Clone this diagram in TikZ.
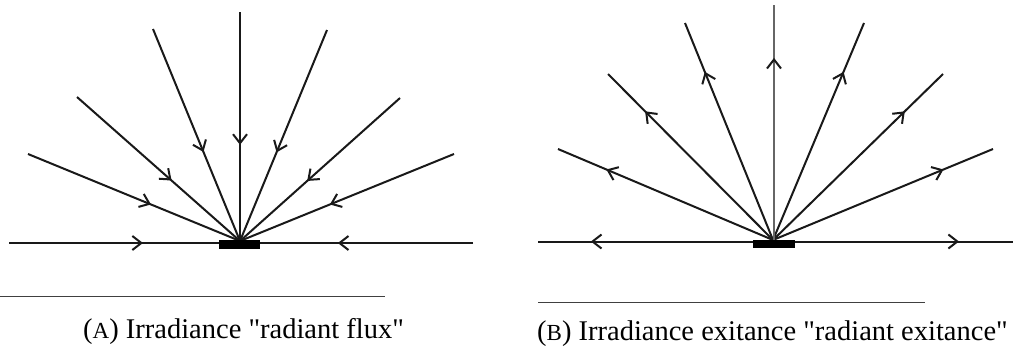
\documentclass[tikz,border=0pt]{standalone}
\usepackage{fontspec}
\setmainfont{Liberation Serif}
\usetikzlibrary{arrows.meta,decorations.markings}
\tikzset{
  tip/.tip={Straight Barb[length=9pt,width=14pt,line width=2pt]},
  ray/.style={line width=2pt, draw=black!90},
  inray/.style={ray, postaction={decorate}, decoration={markings,
      mark=at position 0.58 with {\arrow[black!90]{tip}}}},
  outray/.style={ray, postaction={decorate}, decoration={markings,
      mark=at position 0.775 with {\arrow[black!90]{tip}}}},
  patch/.style={fill=black, draw=none},
  rule/.style={line width=1pt, draw=black!75},
  caption/.style={font=\fontsize{28.5}{30}\selectfont, inner sep=0pt, anchor=base west}
}
\begin{document}
\begin{tikzpicture}[x=1pt,y=-1pt]
\useasboundingbox (0,0) rectangle (1022,354);
% ---------- (A) incoming ----------
\coordinate (ca) at (240,241);
\coordinate (ha) at (240,243);
\coordinate (a0) at (9,243);
\coordinate (a1) at (28,154);
\coordinate (a2) at (77,97);
\coordinate (a3) at (153,29);
\coordinate (a4) at (240,12);
\coordinate (a5) at (327,30);
\coordinate (a6) at (400,98);
\coordinate (a7) at (454,154);
\coordinate (a8) at (473,243);
\draw[inray] (a0) -- (ha);
\draw[inray] (a8) -- (ha);
\foreach \p in {a1,a2,a3,a4,a5,a6,a7} \draw[inray] (\p) -- (ca);
\node[patch, minimum width=41pt, minimum height=9pt, inner sep=0pt] (pa) at (239.5,244.5) {};
% ---------- (B) outgoing ----------
\coordinate (cb) at (773,240);
\coordinate (hb) at (773,241.5);
\coordinate (b0) at (538,241.5);
\coordinate (b1) at (558,149);
\coordinate (b2) at (608,74);
\coordinate (b3) at (685,23);
\coordinate (b4) at (774,5);
\coordinate (b5) at (864,23);
\coordinate (b6) at (943,74);
\coordinate (b7) at (993,149);
\coordinate (b8) at (1013,241.5);
\draw[outray] (hb) -- (b0);
\draw[outray] (hb) -- (b8);
\foreach \p in {b1,b2,b3,b5,b6,b7} \draw[outray] (cb) -- (\p);
\coordinate (cb4) at (774,240);
\draw[outray, draw=black!60, line width=2.4pt] (cb4) -- (b4);
\node[patch, minimum width=42pt, minimum height=8pt, inner sep=0pt] (pb) at (774,244) {};
% ---------- captions ----------
\coordinate (la) at (0,296);
\coordinate (lb) at (385,296);
\draw[rule] (la) -- (lb);
\coordinate (lc) at (538,302);
\coordinate (ld) at (925,302);
\draw[rule] (lc) -- (ld);
\node[caption] (capa) at (83,338) {({\fontsize{23}{24}\selectfont A}) Irradiance \textquotedbl radiant flux\textquotedbl};
\node[caption] (capb) at (537,340) {({\fontsize{23}{24}\selectfont B}) Irradiance exitance \textquotedbl radiant exitance\textquotedbl};
\end{tikzpicture}
\end{document}
